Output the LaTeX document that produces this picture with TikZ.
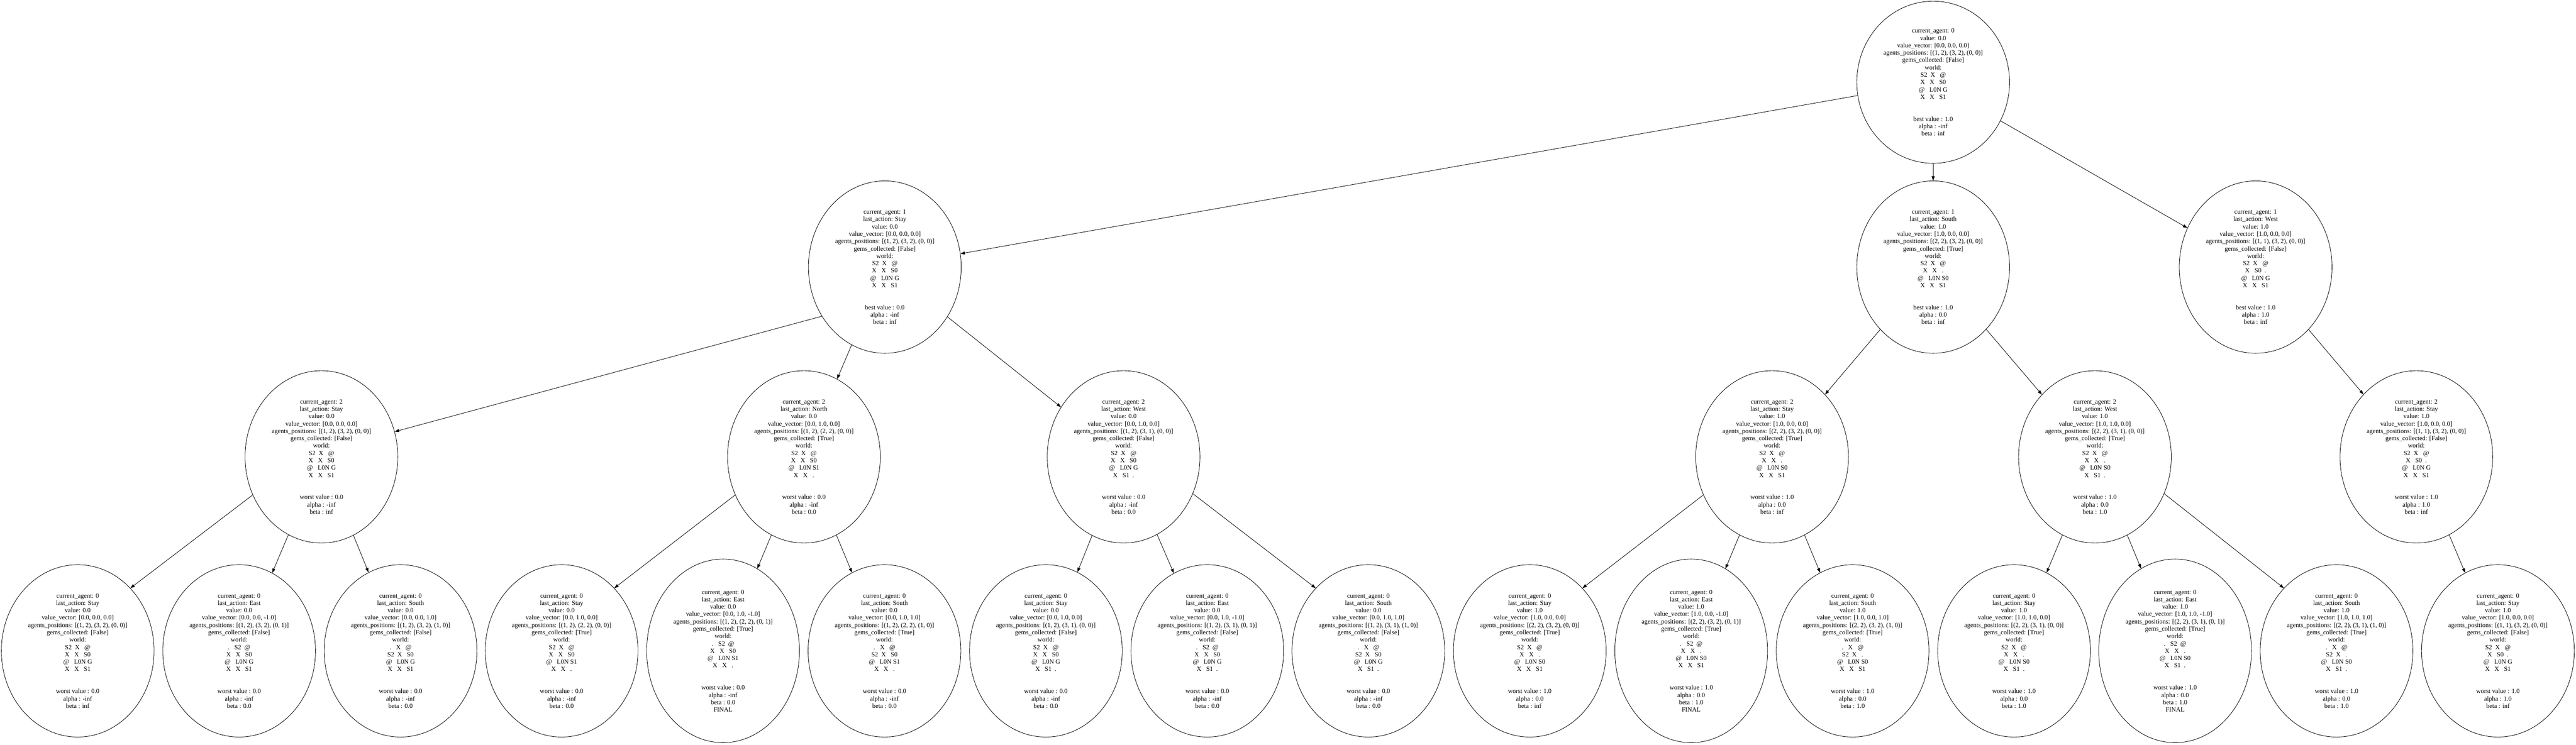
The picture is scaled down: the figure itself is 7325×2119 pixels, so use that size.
\documentclass[tikz,border=0pt]{standalone}
\usepackage{fontspec}
\setmainfont{Liberation Serif}
\usetikzlibrary{shapes.geometric,arrows.meta}

\newcommand{\stateinfo}[6]{current\_agent: #1\\last\_action: #2\\value: #3\\value\_vector: [#4]\\agents\_positions: [#5]\\gems\_collected: [#6]}
\newcommand{\worldgrid}[4]{world:\\#1\\#2\\#3\\#4\\[11.9pt]}

\begin{document}
\begin{tikzpicture}[x=0.01cm, y=-0.01cm,
    st/.style={draw, ellipse, line width=0.35pt, inner sep=0pt, align=center,
      minimum width=4.34cm, minimum height=4.9cm, font=\fontsize{5.2}{5.95}\selectfont},
    top/.style={st, minimum height=4.61cm},
    fin/.style={st, minimum height=5.22cm}]
  \useasboundingbox (0,0) rectangle (7325,2119);
  % root and first level
  \draw
    (5497,234) node[top] (0){current\_agent: 0\\value: 0.0\\value\_vector: [0.0, 0.0, 0.0]\\agents\_positions: [(1, 2), (3, 2), (0, 0)]\\gems\_collected: [False]\\
      \worldgrid{S2~~X~~~@}{X~~~X~~~S0}{@~~~L0N~G}{X~~~X~~~S1}best value : 1.0\\alpha : -inf\\beta : inf}
    (2516,760) node[st] (1){\stateinfo{1}{Stay}{0.0}{0.0, 0.0, 0.0}{(1, 2), (3, 2), (0, 0)}{False}\\
      \worldgrid{S2~~X~~~@}{X~~~X~~~S0}{@~~~L0N~G}{X~~~X~~~S1}best value : 0.0\\alpha : -inf\\beta : inf}
    (5497,760) node[st] (2){\stateinfo{1}{South}{1.0}{1.0, 0.0, 0.0}{(2, 2), (3, 2), (0, 0)}{True}\\
      \worldgrid{S2~~X~~~@}{X~~~X~~~.}{@~~~L0N~S0}{X~~~X~~~S1}best value : 1.0\\alpha : 0.0\\beta : inf}
    (6414,760) node[st] (3){\stateinfo{1}{West}{1.0}{1.0, 0.0, 0.0}{(1, 1), (3, 2), (0, 0)}{False}\\
      \worldgrid{S2~~X~~~@}{X~~~S0~~.}{@~~~L0N~G}{X~~~X~~~S1}best value : 1.0\\alpha : 1.0\\beta : inf};
  % second level
  \draw
    (914,1300) node[st] (4){\stateinfo{2}{Stay}{0.0}{0.0, 0.0, 0.0}{(1, 2), (3, 2), (0, 0)}{False}\\
      \worldgrid{S2~~X~~~@}{X~~~X~~~S0}{@~~~L0N~G}{X~~~X~~~S1}worst value : 0.0\\alpha : -inf\\beta : inf}
    (2286,1300) node[st] (5){\stateinfo{2}{North}{0.0}{0.0, 1.0, 0.0}{(1, 2), (2, 2), (0, 0)}{True}\\
      \worldgrid{S2~~X~~~@}{X~~~X~~~S0}{@~~~L0N~S1}{X~~~X~~~.}worst value : 0.0\\alpha : -inf\\beta : 0.0}
    (3195,1300) node[st] (6){\stateinfo{2}{West}{0.0}{0.0, 1.0, 0.0}{(1, 2), (3, 1), (0, 0)}{False}\\
      \worldgrid{S2~~X~~~@}{X~~~X~~~S0}{@~~~L0N~G}{X~~~S1~~.}worst value : 0.0\\alpha : -inf\\beta : 0.0}
    (5039,1300) node[st] (7){\stateinfo{2}{Stay}{1.0}{1.0, 0.0, 0.0}{(2, 2), (3, 2), (0, 0)}{True}\\
      \worldgrid{S2~~X~~~@}{X~~~X~~~.}{@~~~L0N~S0}{X~~~X~~~S1}worst value : 1.0\\alpha : 0.0\\beta : inf}
    (5957,1300) node[st] (8){\stateinfo{2}{West}{1.0}{1.0, 1.0, 0.0}{(2, 2), (3, 1), (0, 0)}{True}\\
      \worldgrid{S2~~X~~~@}{X~~~X~~~.}{@~~~L0N~S0}{X~~~S1~~.}worst value : 1.0\\alpha : 0.0\\beta : 1.0}
    (6871,1300) node[st] (9){\stateinfo{2}{Stay}{1.0}{1.0, 0.0, 0.0}{(1, 1), (3, 2), (0, 0)}{False}\\
      \worldgrid{S2~~X~~~@}{X~~~S0~~.}{@~~~L0N~G}{X~~~X~~~S1}worst value : 1.0\\alpha : 1.0\\beta : inf};
  % leaves
  \draw
    (221,1852) node[st] (10){\stateinfo{0}{Stay}{0.0}{0.0, 0.0, 0.0}{(1, 2), (3, 2), (0, 0)}{False}\\
      \worldgrid{S2~~X~~~@}{X~~~X~~~S0}{@~~~L0N~G}{X~~~X~~~S1}worst value : 0.0\\alpha : -inf\\beta : inf}
    (680,1852) node[st] (11){\stateinfo{0}{East}{0.0}{0.0, 0.0, -1.0}{(1, 2), (3, 2), (0, 1)}{False}\\
      \worldgrid{.~~~S2~~@}{X~~~X~~~S0}{@~~~L0N~G}{X~~~X~~~S1}worst value : 0.0\\alpha : -inf\\beta : 0.0}
    (1139,1852) node[st] (12){\stateinfo{0}{South}{0.0}{0.0, 0.0, 1.0}{(1, 2), (3, 2), (1, 0)}{False}\\
      \worldgrid{.~~~X~~~@}{S2~~X~~~S0}{@~~~L0N~G}{X~~~X~~~S1}worst value : 0.0\\alpha : -inf\\beta : 0.0}
    (1597,1852) node[st] (13){\stateinfo{0}{Stay}{0.0}{0.0, 1.0, 0.0}{(1, 2), (2, 2), (0, 0)}{True}\\
      \worldgrid{S2~~X~~~@}{X~~~X~~~S0}{@~~~L0N~S1}{X~~~X~~~.}worst value : 0.0\\alpha : -inf\\beta : 0.0}
    (2056,1852) node[fin] (14){\stateinfo{0}{East}{0.0}{0.0, 1.0, -1.0}{(1, 2), (2, 2), (0, 1)}{True}\\
      \worldgrid{.~~~S2~~@}{X~~~X~~~S0}{@~~~L0N~S1}{X~~~X~~~.}worst value : 0.0\\alpha : -inf\\beta : 0.0\\FINAL}
    (2515,1852) node[st] (15){\stateinfo{0}{South}{0.0}{0.0, 1.0, 1.0}{(1, 2), (2, 2), (1, 0)}{True}\\
      \worldgrid{.~~~X~~~@}{S2~~X~~~S0}{@~~~L0N~S1}{X~~~X~~~.}worst value : 0.0\\alpha : -inf\\beta : 0.0}
    (2974,1852) node[st] (16){\stateinfo{0}{Stay}{0.0}{0.0, 1.0, 0.0}{(1, 2), (3, 1), (0, 0)}{False}\\
      \worldgrid{S2~~X~~~@}{X~~~X~~~S0}{@~~~L0N~G}{X~~~S1~~.}worst value : 0.0\\alpha : -inf\\beta : 0.0}
    (3433,1852) node[st] (17){\stateinfo{0}{East}{0.0}{0.0, 1.0, -1.0}{(1, 2), (3, 1), (0, 1)}{False}\\
      \worldgrid{.~~~S2~~@}{X~~~X~~~S0}{@~~~L0N~G}{X~~~S1~~.}worst value : 0.0\\alpha : -inf\\beta : 0.0}
    (3891,1852) node[st] (18){\stateinfo{0}{South}{0.0}{0.0, 1.0, 1.0}{(1, 2), (3, 1), (1, 0)}{False}\\
      \worldgrid{.~~~X~~~@}{S2~~X~~~S0}{@~~~L0N~G}{X~~~S1~~.}worst value : 0.0\\alpha : -inf\\beta : 0.0}
    (4350,1852) node[st] (19){\stateinfo{0}{Stay}{1.0}{1.0, 0.0, 0.0}{(2, 2), (3, 2), (0, 0)}{True}\\
      \worldgrid{S2~~X~~~@}{X~~~X~~~.}{@~~~L0N~S0}{X~~~X~~~S1}worst value : 1.0\\alpha : 0.0\\beta : inf}
    (4809,1852) node[fin] (20){\stateinfo{0}{East}{1.0}{1.0, 0.0, -1.0}{(2, 2), (3, 2), (0, 1)}{True}\\
      \worldgrid{.~~~S2~~@}{X~~~X~~~.}{@~~~L0N~S0}{X~~~X~~~S1}worst value : 1.0\\alpha : 0.0\\beta : 1.0\\FINAL}
    (5268,1852) node[st] (21){\stateinfo{0}{South}{1.0}{1.0, 0.0, 1.0}{(2, 2), (3, 2), (1, 0)}{True}\\
      \worldgrid{.~~~X~~~@}{S2~~X~~~.}{@~~~L0N~S0}{X~~~X~~~S1}worst value : 1.0\\alpha : 0.0\\beta : 1.0}
    (5727,1852) node[st] (22){\stateinfo{0}{Stay}{1.0}{1.0, 1.0, 0.0}{(2, 2), (3, 1), (0, 0)}{True}\\
      \worldgrid{S2~~X~~~@}{X~~~X~~~.}{@~~~L0N~S0}{X~~~S1~~.}worst value : 1.0\\alpha : 0.0\\beta : 1.0}
    (6185,1852) node[fin] (23){\stateinfo{0}{East}{1.0}{1.0, 1.0, -1.0}{(2, 2), (3, 1), (0, 1)}{True}\\
      \worldgrid{.~~~S2~~@}{X~~~X~~~.}{@~~~L0N~S0}{X~~~S1~~.}worst value : 1.0\\alpha : 0.0\\beta : 1.0\\FINAL}
    (6644,1852) node[st] (24){\stateinfo{0}{South}{1.0}{1.0, 1.0, 1.0}{(2, 2), (3, 1), (1, 0)}{True}\\
      \worldgrid{.~~~X~~~@}{S2~~X~~~.}{@~~~L0N~S0}{X~~~S1~~.}worst value : 1.0\\alpha : 0.0\\beta : 1.0}
    (7103,1852) node[st] (25){\stateinfo{0}{Stay}{1.0}{1.0, 0.0, 0.0}{(1, 1), (3, 2), (0, 0)}{False}\\
      \worldgrid{S2~~X~~~@}{X~~~S0~~.}{@~~~L0N~G}{X~~~X~~~S1}worst value : 1.0\\alpha : 1.0\\beta : inf};
  \begin{scope}[-{Triangle[length=3.6pt,width=2.5pt]}, line width=0.35pt]
    \draw (0) to (1);
    \draw (0) to (2);
    \draw (0) to (3);
    \draw (1.218) to (4.19);
    \draw (1) to (5);
    \draw (1) to (6);
    \draw (2) to (7);
    \draw (2) to (8);
    \draw (3) to (9);
    \draw (4.209) to (10.50);
    \draw (4) to (11);
    \draw (4) to (12);
    \draw (5.209) to (13.50);
    \draw (5) to (14);
    \draw (5) to (15);
    \draw (6) to (16);
    \draw (6) to (17);
    \draw (6.332) to (18.130);
    \draw (7.209) to (19.50);
    \draw (7) to (20);
    \draw (7) to (21);
    \draw (8) to (22);
    \draw (8) to (23);
    \draw (8.332) to (24.130);
    \draw (9) to (25);
  \end{scope}
\end{tikzpicture}
\end{document}
